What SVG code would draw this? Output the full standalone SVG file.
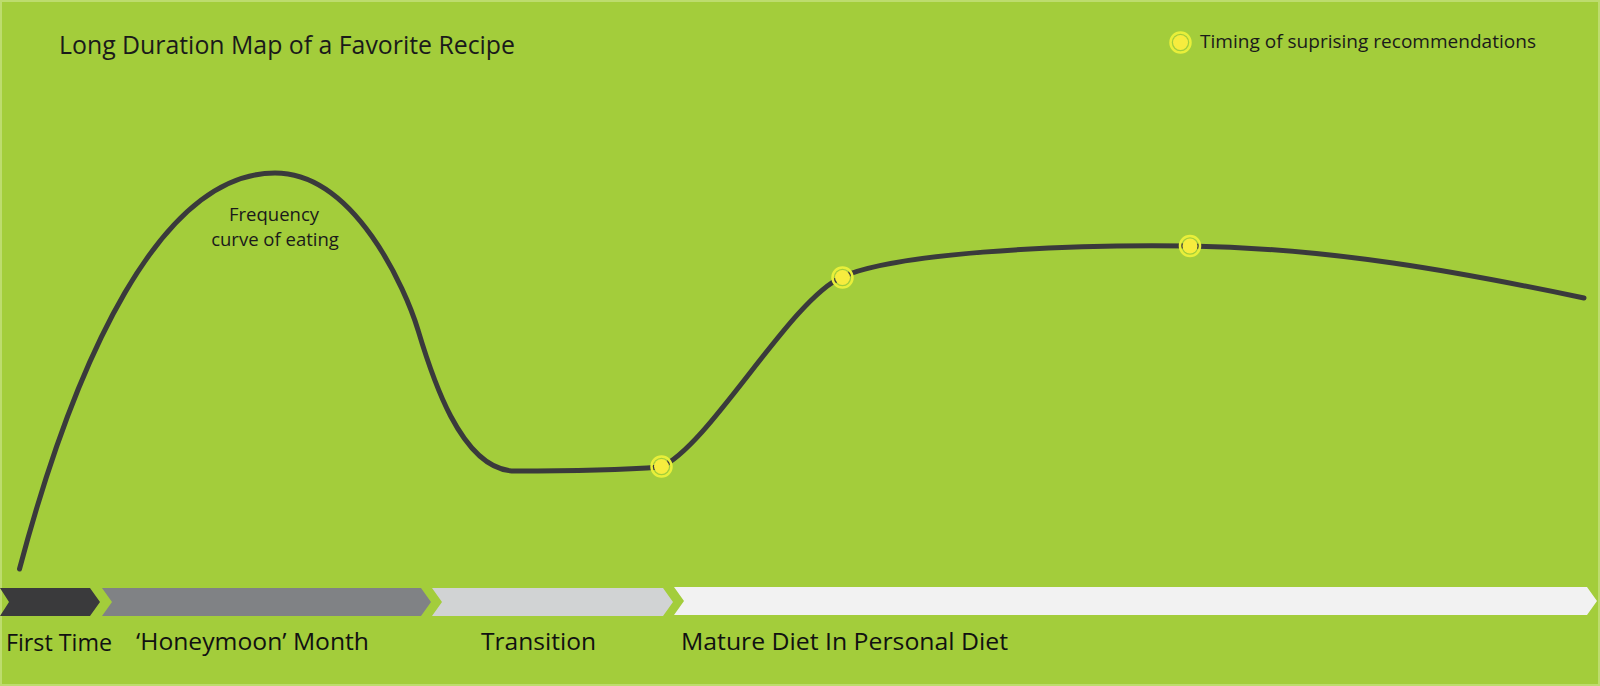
<svg xmlns="http://www.w3.org/2000/svg" width="1600" height="686" viewBox="0 0 1600 686">
  <style>
    .t { font-family: "Open Sans", "Liberation Sans", sans-serif; fill: #1a1a1a; }
    .title { font-size: 25px; }
    .legend { font-size: 19px; }
    .note { font-size: 18.5px; }
    .phase { font-size: 24px; fill: #111111; }
    .ring { fill: none; stroke: #e8ef3a; stroke-width: 2.5; }
    .dot { fill: #f7ec3e; }
    .curve { fill: none; stroke: #3a3a3c; stroke-width: 5; stroke-linecap: round; stroke-linejoin: round; }
  </style>
  <defs>
    <g id="marker">
      <circle r="10" class="ring"/>
      <circle r="7.5" class="dot"/>
    </g>
  </defs>
  <rect x="0" y="0" width="1600" height="686" fill="#a3cd3b"/>
  <rect x="1" y="1" width="1598" height="684" fill="none" stroke="#bddc6e" stroke-width="2"/>

  <g id="title">
    <text class="t title" x="59" y="54" textLength="456" lengthAdjust="spacingAndGlyphs">Long Duration Map of a Favorite Recipe</text>
  </g>

  <g id="legend">
    <use href="#marker" x="1180.5" y="42.5"/>
    <text class="t legend" x="1200" y="48" textLength="336" lengthAdjust="spacingAndGlyphs">Timing of suprising recommendations</text>
  </g>

  <g id="connectors">
    <path class="curve" d="M 19.5 569 C 75 360, 160 173, 275 173 C 355 173, 406 290, 418 330 C 430 370, 460 471, 515 471 C 560 471, 620 470, 661 467 C 710 445, 790 300, 842 277 C 894 254, 1050 244, 1190 246 C 1330 248, 1460 272, 1584 298"/>
  </g>

  <g id="curve-label">
    <text class="t note" text-anchor="middle" x="274" y="221">Frequency</text>
    <text class="t note" text-anchor="middle" x="275" y="246">curve of eating</text>
  </g>

  <g id="marker-1"><use href="#marker" x="661.5" y="466.5"/></g>
  <g id="marker-2"><use href="#marker" x="842.5" y="277.5"/></g>
  <g id="marker-3"><use href="#marker" x="1190" y="246"/></g>

  <g id="phase-first-time">
    <polygon points="0,588 90,588 100,602 90,616 0,616 9,602" fill="#3a3a3c"/>
    <text class="t phase" x="6" y="651" textLength="106" lengthAdjust="spacingAndGlyphs">First Time</text>
  </g>
  <g id="phase-honeymoon">
    <polygon points="102,588 421,588 431,602 421,616 102,616 112,602" fill="#808285"/>
    <text class="t phase" x="136" y="650" textLength="233" lengthAdjust="spacingAndGlyphs">‘Honeymoon’ Month</text>
  </g>
  <g id="phase-transition">
    <polygon points="432,588 663,588 673,602 663,616 432,616 442,602" fill="#d1d3d4"/>
    <text class="t phase" x="481" y="650" textLength="115" lengthAdjust="spacingAndGlyphs">Transition</text>
  </g>
  <g id="phase-mature">
    <polygon points="674,587 1587,587 1597,601 1587,615 674,615 684,601" fill="#f2f2f2"/>
    <text class="t phase" x="681" y="650" textLength="327" lengthAdjust="spacingAndGlyphs">Mature Diet In Personal Diet</text>
  </g>
</svg>
